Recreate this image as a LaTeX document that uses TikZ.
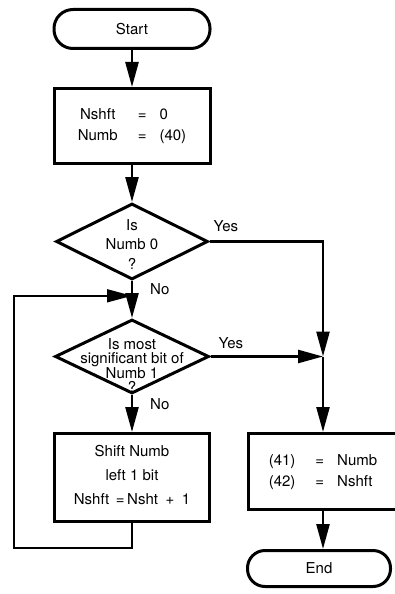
\documentclass[tikz,border=0pt]{standalone}
\usepackage{fontspec}
\setmainfont{TeX Gyre Heros}
\usetikzlibrary{arrows.meta,positioning,shapes.geometric,calc}
\begin{document}
\begin{tikzpicture}[x=1pt,y=1pt,node distance=37pt,>={Triangle[length=25pt,width=13pt]},
  every node/.style={font=\fontsize{15}{21}\selectfont,inner sep=0pt},
  term/.style={draw,line width=3pt,rounded corners=19pt,minimum width=156pt,minimum height=39pt},
  box/.style={draw,line width=3pt,minimum width=156pt,minimum height=75pt,align=center},
  dec/.style={draw,line width=3pt,diamond,minimum width=152pt,minimum height=76pt},
  txt/.style={align=center},
  flow/.style={line width=2.5pt,->},
  back/.style={line width=1.6pt,->}]
\useasboundingbox (0,0) rectangle (395,-594);
\node[term] (start) at (132,-29) {Start};
\node[box,below=of start] (init) {\begin{tabular}{@{}c@{\hspace{20pt}}c@{\hspace{13pt}}l@{}}Nshft&=&0\\Numb&=&(40)\end{tabular}};
\node[dec,below=of init,label={[txt,font=\fontsize{15}{19.5}\selectfont,yshift=-3pt]center:{Is\\Numb 0\\?}}] (zero) {};
\node[dec,minimum width=154pt,minimum height=74pt,below=of zero,label={[txt,font=\fontsize{15}{14.5}\selectfont,yshift=-9pt]center:{Is most\\significant bit of\\Numb 1\\?}}] (msb) {};
\node[box,minimum width=155pt,minimum height=88pt,below=of msb,label={[txt,font=\fontsize{15}{24}\selectfont,yshift=2pt]center:{Shift Numb\\left 1 bit\\Nshft \,=\,Nsht\enspace+\enspace1}}] (shift) {};
\node[box,minimum width=149pt,minimum height=76pt,right=36pt of shift.north east,anchor=north west] (store) {\begin{tabular}{@{}l@{\hspace{20pt}}c@{\hspace{13pt}}l@{}}(41)&=&Numb\\(42)&=&Nshft\end{tabular}};
\node[term,rounded corners=17.5pt,minimum width=143pt,minimum height=36pt,below=38pt of store,xshift=-4pt] (end) {End};
% answers
\node[above right=10pt and 4pt of zero.east] (yes1) {Yes};
\node[above right=8pt and 8pt of msb.east] (yes2) {Yes};
\node[below right=2pt and 18pt of zero.south] (no1) {No};
\node[below right=3pt and 18pt of msb.south] (no2) {No};
\coordinate (jn) at (msb.east -| store.north);
\coordinate (fb) at ($(zero.south)!0.4!(msb.north)$);
\draw[flow] (start)--(init);
\draw[flow] (init)--(zero);
\draw[flow] (zero)--(msb);
\draw[flow] (msb)--(shift);
\draw[flow] (zero.east) -| (jn);
\draw[flow] (msb.east)--(jn);
\draw[flow] (jn)--(store.north);
\draw[flow] (store.south)--(store.south |- end.north);
\draw[back] (shift.south)--++(0,-25) -| ($(fb)+(-118,0)$)--(fb);
\end{tikzpicture}
\end{document}
